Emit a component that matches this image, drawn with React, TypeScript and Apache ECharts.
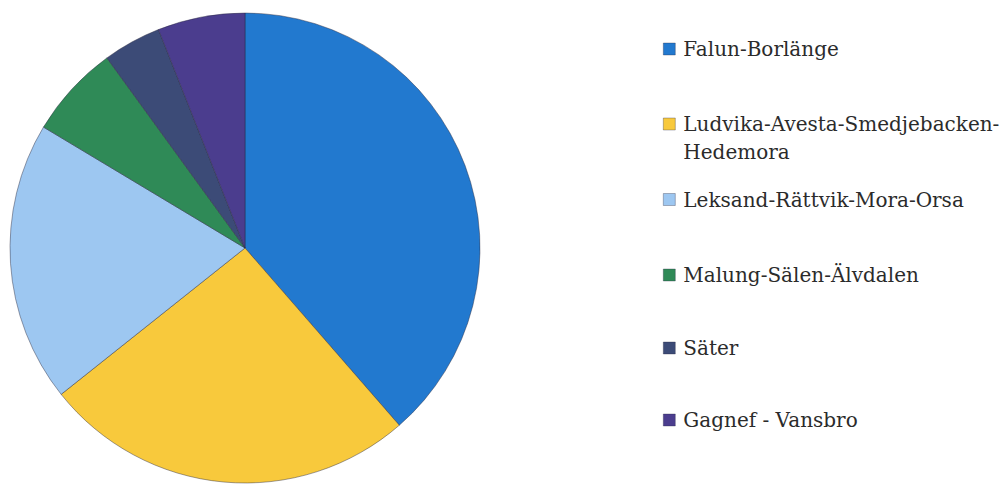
import React, { useEffect, useRef } from "react";
import * as echarts from "echarts";

const categories = [
  "Falun-Borlänge",
  "Ludvika-Avesta-Smedjebacken-\nHedemora",
  "Leksand-Rättvik-Mora-Orsa",
  "Malung-Sälen-Älvdalen",
  "Säter",
  "Gagnef - Vansbro",
];
const values = [38.6, 25.7, 19.3, 6.4, 4.0, 6.0];
const colors = ["#2279cf", "#f8c93c", "#9dc7f1", "#2f8a57", "#3c4b77", "#4b3d8e"];
// icon centre y for each legend entry (layout)
const legendIconY = [49, 124, 199.5, 275, 348, 420];

export default function App() {
  const ref = useRef<HTMLDivElement>(null);
  useEffect(() => {
    document.body.style.margin = "0";
    const chart = echarts.init(ref.current!, undefined, { renderer: "svg" });
    const lh = 28;
    const legends = categories.map((name, i) => {
      const multi = name.includes("\n");
      return {
        data: [name],
        orient: "vertical",
        left: 663,
        top: multi ? legendIconY[i] - 1.5 * lh : legendIconY[i] - lh / 2,
        padding: 0,
        itemWidth: 12,
        itemHeight: 12,
        icon: "rect",
        selectedMode: false,
        formatter: (n: string) => (n.includes("\n") ? " \n" + n : n),
        textStyle: {
          fontFamily: "DejaVu Serif",
          fontSize: 20,
          color: "#2b2b2b",
          lineHeight: lh,
          padding: [0, 0, 0, 3],
        },
        itemStyle: { borderWidth: 0.6, borderColor: "rgba(40,40,60,0.55)" },
      };
    });
    chart.setOption({
      animation: false,
      backgroundColor: "#ffffff",
      color: colors,
      legend: legends,
      series: [
        {
          type: "pie",
          center: [245, 248],
          radius: 235,
          startAngle: 90,
          clockwise: true,
          label: { show: false },
          labelLine: { show: false },
          emphasis: { disabled: true },
          itemStyle: { borderWidth: 0.8, borderColor: "rgba(40,40,60,0.55)" },
          data: categories.map((name, i) => ({ name, value: values[i] })),
        },
      ],
    });
    return () => chart.dispose();
  }, []);
  return <div ref={ref} style={{ width: 1006, height: 485 }} />;
}
